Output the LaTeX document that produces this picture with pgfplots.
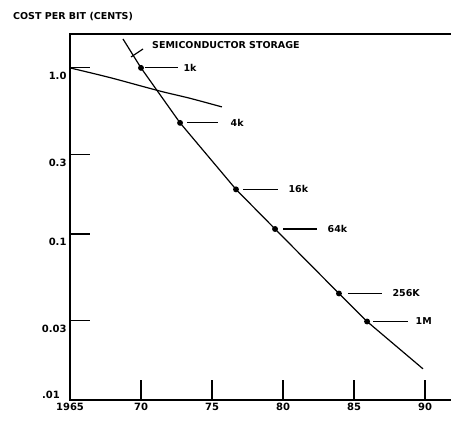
\documentclass[border=0pt]{standalone}
\usepackage{fontspec}
\setmainfont{DejaVu Sans}
\usepackage{pgfplots}
\pgfplotsset{compat=1.18}

\begin{document}
\begin{tikzpicture}[font=\bfseries\fontsize{9.5}{11}\selectfont]
\useasboundingbox (-70pt,-25pt) rectangle (381pt,400pt);
\begin{axis}[
  at={(0,0)}, anchor=south west,
  width=381pt, height=366pt, scale only axis,
  ymode=log,
  xmin=1965, xmax=1991.83,
  ymin=0.01, ymax=1.6,
  xtick pos=bottom, ytick pos=left,
  tick align=inside, major tick length=20pt,
  tick style={line width=1.2pt, black},
  axis line style={line width=1.6pt},
  xtick={1965,1970,1975,1980,1985,1990},
  xticklabels={1965,70,75,80,85,90},
  ytick={0.01,0.03,0.1,0.3,1},
  yticklabels={,0.03,0.1,0.3,1.0},
  yticklabel style={yshift=-8pt},
  tick label style={font=\bfseries\fontsize{10}{12}\selectfont},
  minor tick num=0,
  clip=false,
]
% semiconductor storage, cost per bit by year
\addplot[line width=1.2pt, mark=*, mark size=2.3pt, mark indices={2,3,4,5,6,7}]
coordinates {
(1968.73,1.494)
(1970.0,1.0)
(1972.75,0.4665)
(1976.69,0.1855)
(1979.44,0.1071)
(1983.94,0.0438)
(1985.92,0.0297)
(1989.86,0.0154)
};
% older storage line
\addplot[line width=1.2pt, smooth]
coordinates {
(1965.0,1.0)
(1967.11,0.905)
(1968.31,0.852)
(1971.34,0.725)
(1973.45,0.656)
(1975.70,0.582)
};

% no right-hand frame line in the original
\draw[white, line width=2.6pt] ([yshift=1.2pt]rel axis cs:1,0) -- ([yshift=-1.2pt]rel axis cs:1,1);

\draw[line width=1.2pt] (axis cs:1970,1.0) ++(4pt,0pt) -- ++(33pt,0pt) node[right, inner sep=0, xshift=5pt]{1k};
\draw[line width=1.2pt] (axis cs:1972.75,0.4665) ++(7pt,0pt) -- ++(31pt,0pt) node[right, inner sep=0, xshift=12pt]{4k};
\draw[line width=1.2pt] (axis cs:1976.69,0.1855) ++(7pt,0pt) -- ++(35pt,0pt) node[right, inner sep=0, xshift=10pt]{16k};
\draw[line width=1.2pt] (axis cs:1979.44,0.1071) ++(8pt,0pt) -- ++(34pt,0pt) node[right, inner sep=0, xshift=10pt]{64k};
\draw[line width=1.2pt] (axis cs:1983.94,0.0438) ++(9pt,0pt) -- ++(34pt,0pt) node[right, inner sep=0, xshift=10pt]{256K};
\draw[line width=1.2pt] (axis cs:1985.92,0.0297) ++(6pt,0pt) -- ++(35pt,0pt) node[right, inner sep=0, xshift=7pt]{1M};

\draw[line width=1.2pt] (rel axis cs:0.1601,0.9372) -- (rel axis cs:0.1916,0.959);
\node[anchor=west, inner sep=0] at (rel axis cs:0.2152,0.970) {SEMICONDUCTOR STORAGE};
\node[anchor=east, inner sep=0, xshift=-10pt, yshift=5pt, font=\bfseries\fontsize{10}{12}\selectfont] at (rel axis cs:0,0) {.01};
\end{axis}
\node[anchor=west, inner sep=0] at (-57pt,383pt) {COST PER BIT (CENTS)};
\end{tikzpicture}
\end{document}
